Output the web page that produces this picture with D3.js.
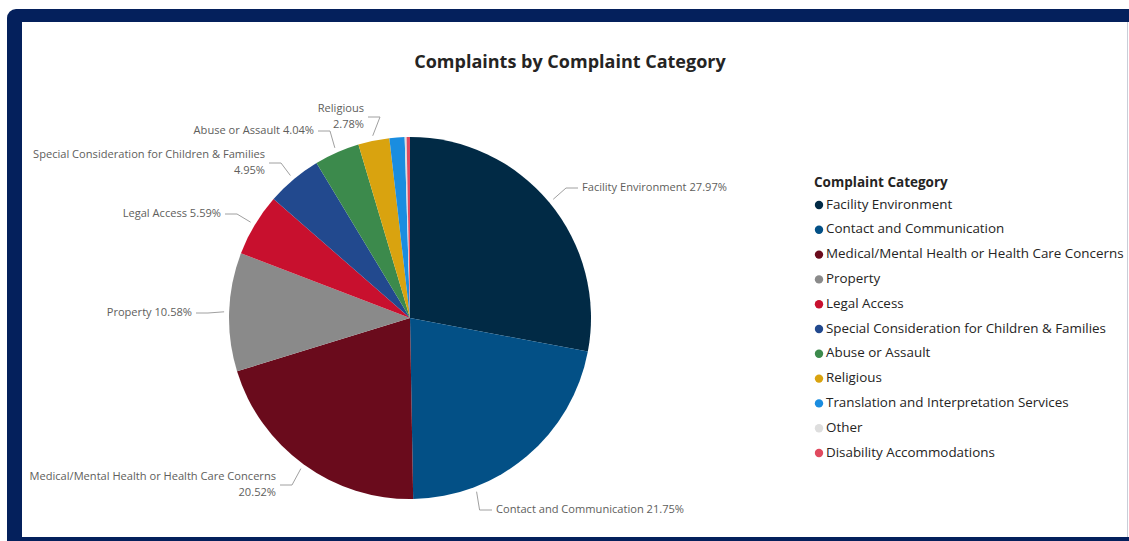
<!DOCTYPE html>
<html>
<head>
<meta charset="utf-8">
<script src="https://cdn.jsdelivr.net/npm/d3@7"></script>
<style>
  html, body { margin: 0; padding: 0; background: #ffffff; }
  svg { display: block; }
  text { font-family: "Open Sans", "Noto Sans", sans-serif; }
</style>
</head>
<body>
<svg id="chart" width="1129" height="541"></svg>
<script>
// ---- data ----
const categories = [
  "Facility Environment",
  "Contact and Communication",
  "Medical/Mental Health or Health Care Concerns",
  "Property",
  "Legal Access",
  "Special Consideration for Children & Families",
  "Abuse or Assault",
  "Religious",
  "Translation and Interpretation Services",
  "Other",
  "Disability Accommodations"
];
const percents = [27.97, 21.75, 20.52, 10.58, 5.59, 4.95, 4.04, 2.78, 1.35, 0.17, 0.30];
const colors = ["#012a45", "#035086", "#6a0b1c", "#8a8a8a", "#c8102e", "#22498e",
                "#3c8a4c", "#d9a30f", "#1a8de0", "#dedede", "#e04a5f"];
const titleText = "Complaints by Complaint Category";
const legendTitle = "Complaint Category";

// ---- label layout (positions only) ----
const labelLayout = [
  { i: 0, side: "right", x: 582, y: 188, lines: ["Facility Environment 27.97%"], frac: 0.5 },
  { i: 1, side: "right", x: 496, y: 510, lines: ["Contact and Communication 21.75%"], frac: 0.745, vertical: true },
  { i: 2, side: "left", x: 276, y: 477, lines: ["Medical/Mental Health or Health Care Concerns", "20.52%"], frac: 0.5 },
  { i: 3, side: "left", x: 192, y: 313, lines: ["Property 10.58%"], frac: 0.5 },
  { i: 4, side: "left", x: 221, y: 214, lines: ["Legal Access 5.59%"], frac: 0.5 },
  { i: 5, side: "left", x: 265, y: 155, lines: ["Special Consideration for Children & Families", "4.95%"], frac: 0.5 },
  { i: 6, side: "left", x: 314, y: 131, lines: ["Abuse or Assault 4.04%"], frac: 0.5 },
  { i: 7, side: "left", x: 364, y: 109, lines: ["Religious", "2.78%"], frac: 0.5 }
];

const W = 1129, H = 541;
const svg = d3.select("#chart");

// ---- frame ----
svg.append("rect").attr("x", 0).attr("y", 0).attr("width", W).attr("height", H).attr("fill", "#ffffff");
svg.append("rect").attr("x", 7).attr("y", 9).attr("width", W + 20).attr("height", H + 20)
  .attr("rx", 9).attr("fill", "#04205c");
svg.append("rect").attr("x", 22).attr("y", 22).attr("width", 1105).attr("height", 515).attr("fill", "#ffffff");
svg.append("line").attr("x1", 1127.5).attr("x2", 1127.5).attr("y1", 22).attr("y2", 537)
  .attr("stroke", "#c9ced8").attr("stroke-width", 1);
svg.append("rect").attr("x", 1128).attr("y", 22).attr("width", 1).attr("height", 515).attr("fill", "#ffffff");

// ---- title ----
svg.append("text").attr("x", 570).attr("y", 63).attr("text-anchor", "middle")
  .attr("dominant-baseline", "middle")
  .attr("font-size", 18).attr("font-weight", 700).attr("fill", "#252423")
  .text(titleText);

// ---- pie ----
const cx = 410, cy = 318, R = 181;
const data = categories.map((c, i) => ({ name: c, value: percents[i], color: colors[i] }));
const pie = d3.pie().value(d => d.value).sort(null);
const arcs = pie(data);
const arc = d3.arc().innerRadius(0).outerRadius(R);
const g = svg.append("g").attr("transform", `translate(${cx},${cy})`);
g.selectAll("path.slice").data(arcs).join("path")
  .attr("class", "slice")
  .attr("d", arc)
  .attr("fill", d => d.data.color);

// ---- labels ----
const lblSize = 11.1, lineH = 16;
const lg = svg.append("g");
labelLayout.forEach(L => {
  const a = arcs[L.i];
  const ang = a.startAngle + (a.endAngle - a.startAngle) * L.frac;
  const rr = R + 5;
  const px = cx + rr * Math.sin(ang), py = cy - rr * Math.cos(ang);
  const midY = L.y + (L.lines.length - 1) * lineH / 2;
  const dir = L.side === "right" ? -1 : 1;
  const endX = L.x + dir * 4;
  let elbowX = L.x + dir * 16;
  if (L.vertical) elbowX = px + 3;
  const pts = [[px, py], [elbowX, midY], [endX, midY]];
  lg.append("path")
    .attr("d", d3.line()(pts))
    .attr("fill", "none").attr("stroke", "#a0a0a0").attr("stroke-width", 1);
  const t = lg.append("text")
    .attr("text-anchor", L.side === "right" ? "start" : "end")
    .attr("font-size", lblSize).attr("fill", "#605e5c");
  L.lines.forEach((ln, k) => {
    t.append("tspan").attr("x", L.x).attr("y", L.y + k * lineH)
      .attr("dominant-baseline", "middle").text(ln);
  });
});

// ---- legend ----
const legX = 814, legY0 = 205, legStep = 24.8;
svg.append("text").attr("x", legX).attr("y", 183).attr("dominant-baseline", "middle")
  .attr("font-size", 13.5).attr("font-weight", 700).attr("fill", "#252423")
  .text(legendTitle);
const items = svg.append("g").selectAll("g").data(data).join("g")
  .attr("transform", (d, i) => `translate(${legX}, ${legY0 + i * legStep})`);
items.append("circle").attr("cx", 5).attr("cy", 0).attr("r", 4.2).attr("fill", d => d.color);
items.append("text").attr("x", 12).attr("y", 0).attr("dominant-baseline", "middle")
  .attr("font-size", 13.4).attr("fill", "#252423").text(d => d.name);
</script>
</body>
</html>
